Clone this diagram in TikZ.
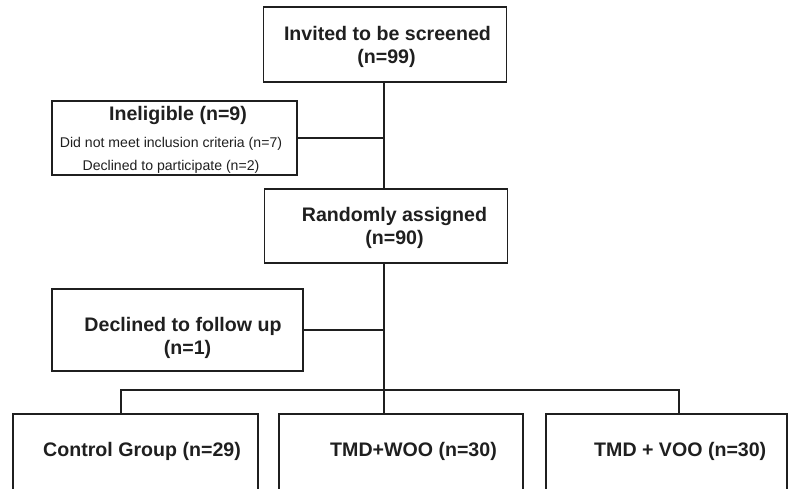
\documentclass[tikz,border=0pt]{standalone}
\usepackage{fontspec}
\setmainfont{Liberation Sans}
\begin{document}
\begin{tikzpicture}[x=1pt,y=-1pt,
  box/.style={draw=black!88, line width=1.7pt, rectangle, inner sep=0pt},
  link/.style={draw=black!88, line width=1.7pt},
  big/.style={font=\fontsize{19.6}{22}\selectfont\bfseries, text=black!88, inner sep=0pt, anchor=base},
  small/.style={font=\fontsize{14.1}{16}\selectfont, text=black!88, inner sep=0pt, anchor=base}]
\clip (0,0) rectangle (793,489);
\useasboundingbox (0,0) rectangle (793,489);
% boxes
\node[box, minimum width=243pt, minimum height=75pt] (top) at (385,44.5) {};
\node[box, minimum width=245pt, minimum height=74pt] (inel) at (174.5,138) {};
\node[box, minimum width=243pt, minimum height=74pt] (rand) at (386,226) {};
\node[box, minimum width=251pt, minimum height=82pt] (decl) at (177.5,330) {};
\node[box, minimum width=245pt, minimum height=120pt] (ctrl) at (135.5,474) {};
\node[box, minimum width=244pt, minimum height=120pt] (woo) at (401,474) {};
\node[box, minimum width=241pt, minimum height=120pt] (voo) at (666.5,474) {};
% texts
\node[big] (t1) at (387.5,41) {Invited to be screened};
\node[big] (t2) at (386.5,64) {(n=99)};
\node[big] (t3) at (178,121) {Ineligible (n=9)};
\node[small] (t4) at (171,148) {Did not meet inclusion criteria (n=7)};
\node[small] (t5) at (171,171) {Declined to participate (n=2)};
\node[big] (t6) at (394.5,222) {Randomly assigned};
\node[big] (t7) at (394.5,245) {(n=90)};
\node[big] (t8) at (183,331) {Declined to follow up};
\node[big] (t9) at (187.5,354) {(n=1)};
\node[big, anchor=base west] (t10) at (43,456) {Control Group (n=29)};
\node[big, anchor=base west] (t11) at (330,456) {TMD+WOO (n=30)};
\node[big, anchor=base west] (t12) at (594,456) {TMD + VOO (n=30)};
% connectors
\coordinate (tr) at (384,0);
\coordinate (busl) at (121,390);
\coordinate (busr) at (679,390);
\draw[link] (tr |- top.south) -- (tr |- rand.north);
\draw[link] (inel.east) -- (tr |- inel.east);
\draw[link] (tr |- rand.south) -- (tr |- woo.north);
\draw[link] (decl.east) -- (tr |- decl.east);
\draw[link] (busl |- ctrl.north) -- (busl) -- (busr) -- (busr |- voo.north);
\end{tikzpicture}
\end{document}
